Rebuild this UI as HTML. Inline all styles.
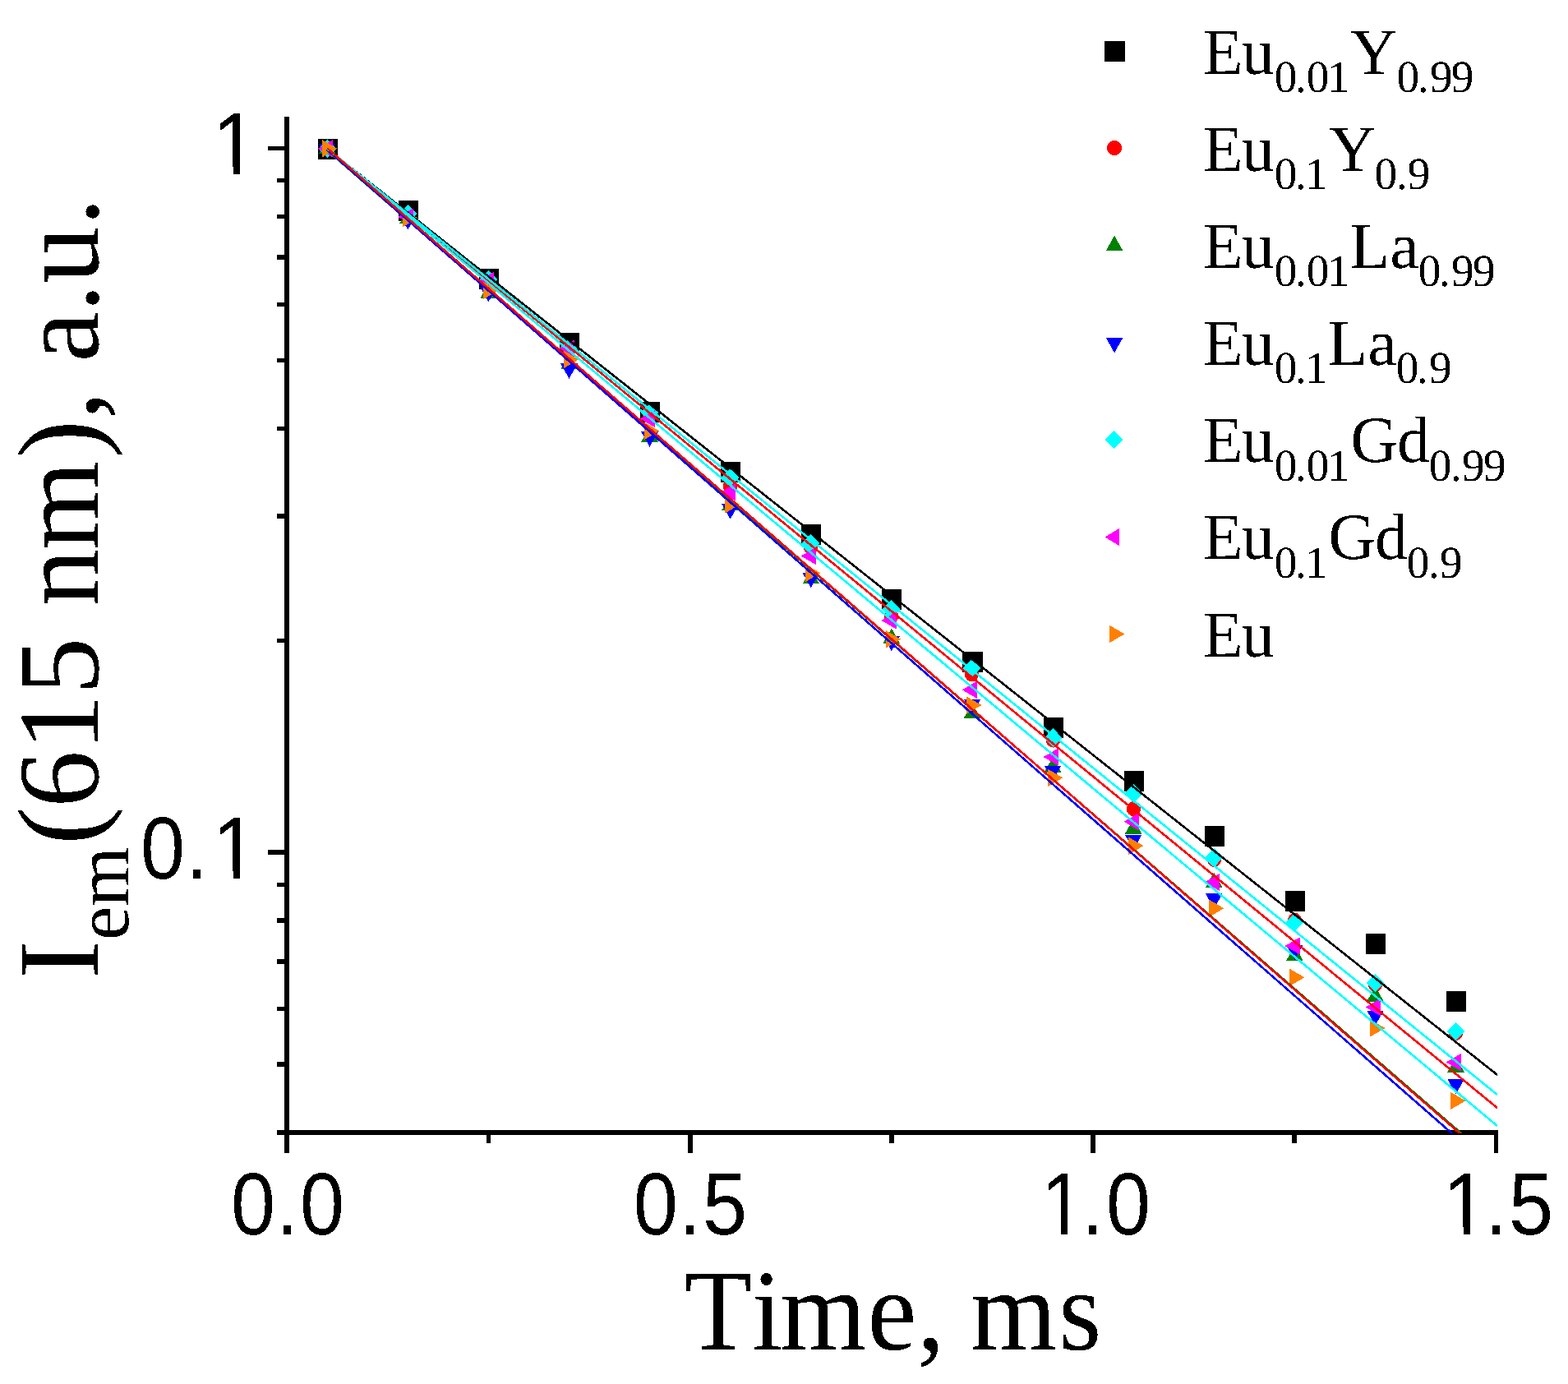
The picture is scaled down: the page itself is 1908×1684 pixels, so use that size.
<!DOCTYPE html>
<html lang="en"><head><meta charset="utf-8"><title>Time, ms</title>
<style>
html,body{margin:0;padding:0;background:#fff;}
body{width:1908px;height:1684px;overflow:hidden;}
svg{display:block;}
text{font-kerning:none;font-variant-ligatures:none;text-rendering:geometricPrecision;white-space:pre;fill:#000;}
.tk{font-family:"Liberation Sans",sans-serif;}
.ti,.lg{font-family:"Liberation Serif",serif;}
</style></head><body>
<svg width="1908" height="1684" viewBox="0 0 1908 1684">
<rect width="1908" height="1684" fill="#fff"/>
<g shape-rendering="crispEdges">
<g>
<rect x="387" y="169" width="24" height="25" fill="#000000"/>
<rect x="485" y="244" width="24" height="25" fill="#000000"/>
<rect x="583" y="327.1" width="24" height="25" fill="#000000"/>
<rect x="681" y="404.7" width="24" height="25" fill="#000000"/>
<rect x="779" y="488.8" width="24" height="25" fill="#000000"/>
<rect x="877" y="562" width="24" height="25" fill="#000000"/>
<rect x="975" y="637.6" width="24" height="25" fill="#000000"/>
<rect x="1073" y="717" width="24" height="25" fill="#000000"/>
<rect x="1171" y="792.9" width="25" height="25" fill="#000000"/>
<rect x="1270" y="872.7" width="24" height="25" fill="#000000"/>
<rect x="1368" y="938.1" width="24" height="25" fill="#000000"/>
<rect x="1466" y="1005" width="24" height="25" fill="#000000"/>
<rect x="1564" y="1084.1" width="24" height="25" fill="#000000"/>
<rect x="1662" y="1136" width="24" height="25" fill="#000000"/>
<rect x="1760" y="1205.9" width="24" height="25" fill="#000000"/>
</g>
<g>
<ellipse cx="398.5" cy="180.8" rx="8.6" ry="9.1" fill="#ff0000"/>
<ellipse cx="496.5" cy="262" rx="8.6" ry="9.1" fill="#ff0000"/>
<ellipse cx="594.5" cy="345" rx="8.6" ry="9.1" fill="#ff0000"/>
<ellipse cx="692.5" cy="424" rx="8.6" ry="9.1" fill="#ff0000"/>
<ellipse cx="790.5" cy="504" rx="8.6" ry="9.1" fill="#ff0000"/>
<ellipse cx="888.5" cy="591.4" rx="8.6" ry="9.1" fill="#ff0000"/>
<ellipse cx="986.5" cy="666" rx="8.6" ry="9.1" fill="#ff0000"/>
<ellipse cx="1084.5" cy="749.7" rx="8.6" ry="9.1" fill="#ff0000"/>
<ellipse cx="1182.5" cy="820.3" rx="8.6" ry="9.1" fill="#ff0000"/>
<ellipse cx="1281.5" cy="900.5" rx="8.6" ry="9.1" fill="#ff0000"/>
<ellipse cx="1379.5" cy="984.1" rx="8.6" ry="9.1" fill="#ff0000"/>
<ellipse cx="1477.5" cy="1046" rx="8.6" ry="9.1" fill="#ff0000"/>
<ellipse cx="1575.5" cy="1120" rx="8.6" ry="9.1" fill="#ff0000"/>
<ellipse cx="1673.5" cy="1198" rx="8.6" ry="9.1" fill="#ff0000"/>
<ellipse cx="1771.5" cy="1257" rx="8.6" ry="9.1" fill="#ff0000"/>
</g>
<g>
<polygon points="398.18,168.5 408.45,186.8 387.9,186.8" fill="#008000"/>
<polygon points="496.28,254.1 506.55,272.4 486,272.4" fill="#008000"/>
<polygon points="594.38,345.1 604.65,363.4 584.1,363.4" fill="#008000"/>
<polygon points="692.48,430.9 702.75,449.2 682.2,449.2" fill="#008000"/>
<polygon points="790.58,519.2 800.85,537.5 780.3,537.5" fill="#008000"/>
<polygon points="888.68,602.3 898.95,620.6 878.4,620.6" fill="#008000"/>
<polygon points="986.78,692.1 997.05,710.4 976.5,710.4" fill="#008000"/>
<polygon points="1084.88,764.5 1095.15,782.8 1074.6,782.8" fill="#008000"/>
<polygon points="1182.98,855.6 1193.25,873.9 1172.7,873.9" fill="#008000"/>
<polygon points="1281.08,921.2 1291.35,939.5 1270.8,939.5" fill="#008000"/>
<polygon points="1379.17,996.3 1389.45,1014.6 1368.9,1014.6" fill="#008000"/>
<polygon points="1477.28,1061.5 1487.55,1079.8 1467,1079.8" fill="#008000"/>
<polygon points="1575.38,1150.5 1585.65,1168.8 1565.1,1168.8" fill="#008000"/>
<polygon points="1673.48,1200.2 1683.75,1218.5 1663.2,1218.5" fill="#008000"/>
<polygon points="1771.58,1286.3 1781.85,1304.6 1761.3,1304.6" fill="#008000"/>
</g>
<g>
<polygon points="398.18,193.1 408.45,174.8 387.9,174.8" fill="#0000ff"/>
<polygon points="496.28,279.6 506.55,261.3 486,261.3" fill="#0000ff"/>
<polygon points="594.38,367.3 604.65,349 584.1,349" fill="#0000ff"/>
<polygon points="692.48,460.7 702.75,442.4 682.2,442.4" fill="#0000ff"/>
<polygon points="790.58,543.7 800.85,525.4 780.3,525.4" fill="#0000ff"/>
<polygon points="888.68,631.7 898.95,613.4 878.4,613.4" fill="#0000ff"/>
<polygon points="986.78,715.3 997.05,697 976.5,697" fill="#0000ff"/>
<polygon points="1084.88,792.3 1095.15,774 1074.6,774" fill="#0000ff"/>
<polygon points="1182.98,869 1193.25,850.7 1172.7,850.7" fill="#0000ff"/>
<polygon points="1281.08,949.8 1291.35,931.5 1270.8,931.5" fill="#0000ff"/>
<polygon points="1379.17,1034.1 1389.45,1015.8 1368.9,1015.8" fill="#0000ff"/>
<polygon points="1477.28,1105.7 1487.55,1087.4 1467,1087.4" fill="#0000ff"/>
<polygon points="1575.38,1167.8 1585.65,1149.5 1565.1,1149.5" fill="#0000ff"/>
<polygon points="1673.48,1247.8 1683.75,1229.5 1663.2,1229.5" fill="#0000ff"/>
<polygon points="1771.58,1331.4 1781.85,1313.1 1761.3,1313.1" fill="#0000ff"/>
</g>
<g>
<polygon points="398.5,169.6 409.5,180.8 398.5,192 387.5,180.8" fill="#00ffff"/>
<polygon points="496.5,248.8 507.5,260 496.5,271.2 485.5,260" fill="#00ffff"/>
<polygon points="594.5,328.8 605.5,340 594.5,351.2 583.5,340" fill="#00ffff"/>
<polygon points="692.5,411.8 703.5,423 692.5,434.2 681.5,423" fill="#00ffff"/>
<polygon points="790.5,490.8 801.5,502 790.5,513.2 779.5,502" fill="#00ffff"/>
<polygon points="888.5,569.8 899.5,581 888.5,592.2 877.5,581" fill="#00ffff"/>
<polygon points="986.5,649.7 997.5,660.9 986.5,672.1 975.5,660.9" fill="#00ffff"/>
<polygon points="1084.5,730.3 1095.5,741.5 1084.5,752.7 1073.5,741.5" fill="#00ffff"/>
<polygon points="1182.5,802.1 1193.5,813.3 1182.5,824.5 1171.5,813.3" fill="#00ffff"/>
<polygon points="1281.5,886.4 1292.5,897.6 1281.5,908.8 1270.5,897.6" fill="#00ffff"/>
<polygon points="1379.5,954.3 1390.5,965.5 1379.5,976.7 1368.5,965.5" fill="#00ffff"/>
<polygon points="1477.5,1032.2 1488.5,1043.4 1477.5,1054.6 1466.5,1043.4" fill="#00ffff"/>
<polygon points="1575.5,1110.7 1586.5,1121.9 1575.5,1133.1 1564.5,1121.9" fill="#00ffff"/>
<polygon points="1673.5,1184.8 1684.5,1196 1673.5,1207.2 1662.5,1196" fill="#00ffff"/>
<polygon points="1771.5,1243.7 1782.5,1254.9 1771.5,1266.1 1760.5,1254.9" fill="#00ffff"/>
</g>
<g>
<polygon points="386.6,180.8 405,191.5 405,170.1" fill="#ff00ff"/>
<polygon points="484.6,264 503,274.7 503,253.3" fill="#ff00ff"/>
<polygon points="582.6,341.5 601,352.2 601,330.8" fill="#ff00ff"/>
<polygon points="680.6,424.2 699,434.9 699,413.5" fill="#ff00ff"/>
<polygon points="778.6,509.5 797,520.2 797,498.8" fill="#ff00ff"/>
<polygon points="876.6,599 895,609.7 895,588.3" fill="#ff00ff"/>
<polygon points="974.6,676.5 993,687.2 993,665.8" fill="#ff00ff"/>
<polygon points="1072.6,755 1091,765.7 1091,744.3" fill="#ff00ff"/>
<polygon points="1170.6,839.4 1189,850.1 1189,828.7" fill="#ff00ff"/>
<polygon points="1269.6,921 1288,931.7 1288,910.3" fill="#ff00ff"/>
<polygon points="1367.6,999.7 1386,1010.4 1386,989" fill="#ff00ff"/>
<polygon points="1465.6,1073.4 1484,1084.1 1484,1062.7" fill="#ff00ff"/>
<polygon points="1563.6,1151 1582,1161.7 1582,1140.3" fill="#ff00ff"/>
<polygon points="1661.6,1225.6 1680,1236.3 1680,1214.9" fill="#ff00ff"/>
<polygon points="1759.6,1292.5 1778,1303.2 1778,1281.8" fill="#ff00ff"/>
</g>
<g>
<polygon points="410.4,180.8 392,191.5 392,170.1" fill="#ff8000"/>
<polygon points="508.4,265.5 490,276.2 490,254.8" fill="#ff8000"/>
<polygon points="606.4,353.5 588,364.2 588,342.8" fill="#ff8000"/>
<polygon points="704.4,437.4 686,448.1 686,426.7" fill="#ff8000"/>
<polygon points="802.4,524.4 784,535.1 784,513.7" fill="#ff8000"/>
<polygon points="900.4,613.9 882,624.6 882,603.2" fill="#ff8000"/>
<polygon points="998.4,697.3 980,708 980,686.6" fill="#ff8000"/>
<polygon points="1096.4,777.8 1078,788.5 1078,767.1" fill="#ff8000"/>
<polygon points="1194.4,858 1176,868.7 1176,847.3" fill="#ff8000"/>
<polygon points="1293.4,946.4 1275,957.1 1275,935.7" fill="#ff8000"/>
<polygon points="1391.4,1029.1 1373,1039.8 1373,1018.4" fill="#ff8000"/>
<polygon points="1489.4,1105.2 1471,1115.9 1471,1094.5" fill="#ff8000"/>
<polygon points="1587.4,1189.3 1569,1200 1569,1178.6" fill="#ff8000"/>
<polygon points="1685.4,1251 1667,1261.7 1667,1240.3" fill="#ff8000"/>
<polygon points="1783.4,1339.4 1765,1350.1 1765,1328.7" fill="#ff8000"/>
</g>
</g>
<g fill="#000" shape-rendering="crispEdges">
<rect x="346" y="142" width="6" height="1239"/>
<rect x="346" y="1375" width="1477" height="6"/>
<rect x="326" y="178" width="20" height="5"/>
<rect x="326" y="1034" width="20" height="6"/>
<rect x="337" y="217" width="9" height="5"/>
<rect x="337" y="261" width="9" height="5"/>
<rect x="337" y="310" width="9" height="6"/>
<rect x="337" y="368" width="9" height="5"/>
<rect x="337" y="436" width="9" height="5"/>
<rect x="337" y="519" width="9" height="5"/>
<rect x="337" y="625" width="9" height="6"/>
<rect x="337" y="777" width="9" height="5"/>
<rect x="337" y="1074" width="9" height="5"/>
<rect x="337" y="1117" width="9" height="6"/>
<rect x="337" y="1167" width="9" height="6"/>
<rect x="337" y="1225" width="9" height="5"/>
<rect x="337" y="1292" width="9" height="6"/>
<rect x="337" y="1375" width="9" height="6"/>
<rect x="346" y="1381" width="6" height="22"/>
<rect x="837" y="1381" width="6" height="22"/>
<rect x="1327" y="1381" width="6" height="22"/>
<rect x="1818" y="1381" width="5" height="22"/>
<rect x="592" y="1381" width="5" height="10"/>
<rect x="1082" y="1381" width="6" height="10"/>
<rect x="1572" y="1381" width="6" height="10"/>
</g>
<defs><clipPath id="pc"><rect x="346" y="142" width="1476" height="1237"/></clipPath></defs>
<g clip-path="url(#pc)" fill="none" stroke-width="2.6" shape-rendering="crispEdges">
<line x1="398" y1="181.1" x2="1822" y2="1307.91" stroke="#000000"/>
<line x1="398" y1="180.7" x2="1822" y2="1348.1" stroke="#ff0000"/>
<line x1="398" y1="182.8" x2="1822" y2="1417.05" stroke="#008000"/>
<line x1="398" y1="181.9" x2="1822" y2="1427.33" stroke="#0000ff"/>
<line x1="398" y1="180.7" x2="1822" y2="1332" stroke="#00ffff"/>
<line x1="398" y1="180.7" x2="1822" y2="1370.02" stroke="#00ffff"/>
<line x1="398" y1="180.2" x2="1822" y2="1418.72" stroke="#ff0000"/>
</g>
<defs><filter id="crisp" filterUnits="userSpaceOnUse" x="0" y="0" width="1908" height="1684" color-interpolation-filters="sRGB"><feComponentTransfer><feFuncA type="discrete" tableValues="0 1"/></feComponentTransfer></filter></defs>
<g filter="url(#crisp)">
<g>
<clipPath id="k1"><rect x="-3000" y="-128.76" width="9000" height="120.64"/>
<rect x="-3000" y="-9.12" width="3292.58" height="40"/>
<rect x="313.28" y="-9.12" width="9.48" height="40"/>
<rect x="342.62" y="-9.12" width="5657.38" height="40"/>
</clipPath>
<text class="tk" font-size="107.3" transform="translate(0 211.7) scale(0.905 1)" clip-path="url(#k1)" x="286.3" y="0">1</text>
<clipPath id="k2"><rect x="-3000" y="-128.76" width="9000" height="120.64"/>
<rect x="-3000" y="-9.12" width="3292.58" height="40"/>
<rect x="313.28" y="-9.12" width="9.48" height="40"/>
<rect x="342.62" y="-9.12" width="5657.38" height="40"/>
</clipPath>
<text class="tk" font-size="107.3" transform="translate(0 1068.9) scale(0.905 1)" clip-path="url(#k2)" x="188.89 249.74 286.3" y="0">0.1</text>
<text class="tk" font-size="107.3" transform="translate(0 1501.7) scale(0.905 1)" x="310.44 371.28 403.31" y="0">0.0</text>
<text class="tk" font-size="107.3" transform="translate(0 1501.7) scale(0.905 1)" x="851.76 912.72 944.8" y="0">0.5</text>
<clipPath id="k3"><rect x="-3000" y="-128.76" width="9000" height="120.64"/>
<rect x="-3000" y="-9.12" width="4405.4" height="40"/>
<rect x="1426.1" y="-9.12" width="9.48" height="40"/>
<rect x="1455.44" y="-9.12" width="4544.56" height="40"/>
</clipPath>
<text class="tk" font-size="107.3" transform="translate(0 1501.7) scale(0.905 1)" clip-path="url(#k3)" x="1399.11 1454.16 1487.29" y="0">1.0</text>
<clipPath id="k4"><rect x="-3000" y="-128.76" width="9000" height="120.64"/>
<rect x="-3000" y="-9.12" width="4946.73" height="40"/>
<rect x="1967.42" y="-9.12" width="9.48" height="40"/>
<rect x="1996.76" y="-9.12" width="4003.24" height="40"/>
</clipPath>
<text class="tk" font-size="107.3" transform="translate(0 1501.7) scale(0.905 1)" clip-path="url(#k4)" x="1940.44 1996.64 2028.83" y="0">1.5</text>
</g>
<text class="ti" font-size="140.5" transform="translate(0 1641.9) scale(0.96 1)" x="867.35 952.74 988.83 1099.5 1162.52 1197.65 1230.03 1341.64" y="0">Time, ms</text>
<text class="ti" font-size="141" transform="translate(119.2 0) rotate(-90) scale(0.985 1)" x="-1208.83" y="0">I<tspan font-size="94.5" x="-1161.23 -1119.6" y="37">em</tspan><tspan x="-1043.59 -997.5 -927.82 -857.91 -787.41 -748.85 -679.23 -565.95 -518.51 -483.26 -447.37 -385.7 -350.25 -279" y="0">(615 nm), a.u.</tspan></text>
<g shape-rendering="crispEdges">
<rect x="1344" y="50" width="25" height="25" fill="#000000"/>
<circle cx="1356" cy="180" r="9.1" fill="#ff0000"/>
<polygon points="1356.08,286.7 1366.35,305 1345.8,305" fill="#008000"/>
<polygon points="1356.08,429.3 1366.35,411 1345.8,411" fill="#0000ff"/>
<polygon points="1355.7,523.8 1366.4,535 1355.7,546.2 1345,535" fill="#00ffff"/>
<polygon points="1344.6,653.5 1362,664.2 1362,642.8" fill="#ff00ff"/>
<polygon points="1368.4,771.5 1350,782.2 1350,760.8" fill="#ff8000"/>
</g>
<g class="lg" font-size="80">
<text transform="translate(0 89.7)" x="1463.86 1510.76" y="0">Eu<tspan font-size="55.4" x="1550.65 1575.92 1589.75 1614.98" y="22.3">0.01</tspan><tspan x="1642.68" y="0">Y</tspan><tspan font-size="55.4" x="1699.6 1724.98 1739.89 1765.84" y="22.3">0.99</tspan></text>
<text transform="translate(0 207.85)" x="1463.86 1510.76" y="0">Eu<tspan font-size="55.4" x="1550.65 1576.08 1587.88" y="22.3">0.1</tspan><tspan x="1616.63" y="0">Y</tspan><tspan font-size="55.4" x="1672.55 1698.92 1712.84" y="22.3">0.9</tspan></text>
<text transform="translate(0 326)" x="1463.86 1510.76" y="0">Eu<tspan font-size="55.4" x="1550.65 1575.92 1589.75 1614.98" y="22.3">0.01</tspan><tspan x="1642.27 1691.34" y="0">La</tspan><tspan font-size="55.4" x="1725.85 1751.02 1766.09 1792.09" y="22.3">0.99</tspan></text>
<text transform="translate(0 444.15)" x="1463.86 1510.76" y="0">Eu<tspan font-size="55.4" x="1550.65 1576.08 1587.88" y="22.3">0.1</tspan><tspan x="1615.27 1664.34" y="0">La</tspan><tspan font-size="55.4" x="1698.85 1724.02 1739.09" y="22.3">0.9</tspan></text>
<text transform="translate(0 562.3)" x="1463.86 1510.76" y="0">Eu<tspan font-size="55.4" x="1550.65 1575.92 1589.75 1614.98" y="22.3">0.01</tspan><tspan x="1643.27 1699.99" y="0">Gd</tspan><tspan font-size="55.4" x="1738.75 1764.88 1778.94 1805.09" y="22.3">0.99</tspan></text>
<text transform="translate(0 680.45)" x="1463.86 1510.76" y="0">Eu<tspan font-size="55.4" x="1550.65 1576.08 1587.88" y="22.3">0.1</tspan><tspan x="1616.27 1672.99" y="0">Gd</tspan><tspan font-size="55.4" x="1711.75 1737.88 1751.94" y="22.3">0.9</tspan></text>
<text transform="translate(0 798.6)" x="1463.86 1510.76" y="0">Eu</text>
</g>
</g>
</svg>
</body></html>
